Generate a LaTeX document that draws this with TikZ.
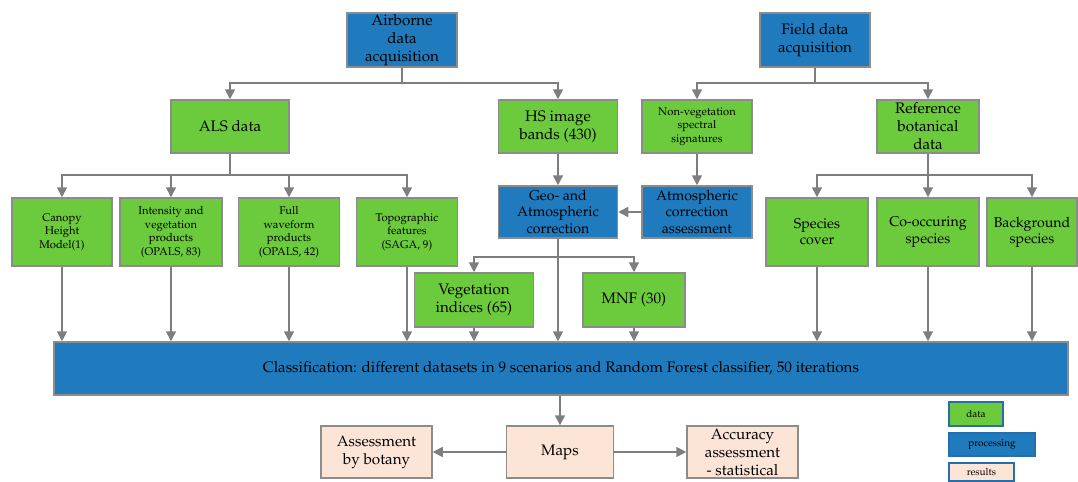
\documentclass[tikz,border=0pt]{standalone}
\usepackage[T1]{fontenc}
\usepackage{mathpazo}
\usetikzlibrary{arrows.meta,positioning}
\definecolor{datagreen}{RGB}{108,203,60}
\definecolor{procblue}{RGB}{31,123,190}
\definecolor{respeach}{RGB}{252,228,214}
\definecolor{boxgray}{RGB}{140,140,140}
\definecolor{arrgray}{RGB}{125,125,130}
\definecolor{legblue}{RGB}{40,110,170}
\newcommand{\normsz}{\fontsize{7.6}{9}\selectfont}
\newcommand{\midsz}{\fontsize{7.1}{8.1}\selectfont}
\newcommand{\smallsz}{\fontsize{5.6}{6.8}\selectfont}
\newcommand{\legsz}{\fontsize{5}{6}\selectfont}
\tikzset{
    box/.style={draw=boxgray, line width=0.75pt, align=center, inner sep=0pt, font=\normsz},
    data/.style={box, fill=datagreen},
    proc/.style={box, fill=procblue},
    res/.style={box, fill=respeach},
    legbox/.style={draw=legblue, line width=0.75pt, inner sep=0pt, font=\legsz},
    flow/.style={draw=arrgray, line width=0.75pt},
    >={Triangle[width=5pt,length=5pt]}
}

\begin{document}
\begin{tikzpicture}[x=0.5pt, y=-0.5pt]
    \useasboundingbox (0,0) rectangle (1078,482);
    \node[proc, minimum width=55pt, minimum height=27pt] (air) at (402,40) {Airborne\\data\\acquisition};
    \node[proc, minimum width=55pt, minimum height=27pt] (field) at (815,40) {Field data\\acquisition};
    \node[data, minimum width=59pt, minimum height=26.5pt] (als) at (230,126.5) {ALS data};
    \node[data, minimum width=59.5pt, minimum height=26.5pt] (hs) at (558,126.5) {HS image\\bands (430)};
    \node[data, minimum width=55pt, minimum height=26.5pt, font=\smallsz] (nonveg) at (697,126.5) {Non-vegetation\\spectral\\signatures};
    \node[data, minimum width=51pt, minimum height=26.5pt] (ref) at (928,126.5) {Reference\\botanical\\data};
    \node[proc, minimum width=59.5pt, minimum height=26pt, font=\midsz] (geo) at (558,212) {Geo- and\\Atmospheric\\correction};
    \node[proc, minimum width=55pt, minimum height=26pt, font=\midsz] (atm) at (697,212) {Atmospheric\\correction\\assessment};
    \node[data, minimum width=50pt, minimum height=34pt, font=\smallsz] (canopy) at (62,232) {Canopy\\Height\\Model(1)};
    \node[data, minimum width=51pt, minimum height=34pt, font=\smallsz] (inten) at (171,232) {Intensity and\\vegetation\\products\\(OPALS, 83)};
    \node[data, minimum width=50.5pt, minimum height=34pt, font=\smallsz] (full) at (289,232) {Full\\waveform\\products\\(OPALS, 42)};
    \node[data, minimum width=50.5pt, minimum height=34pt, font=\smallsz] (topo) at (407,232) {Topographic\\features\\(SAGA, 9)};
    \node[data, minimum width=51pt, minimum height=34pt, font=\midsz] (cover) at (817,232) {Species\\cover};
    \node[data, minimum width=51pt, minimum height=34pt, font=\midsz] (cooc) at (928,232) {Co-occuring\\species};
    \node[data, minimum width=45pt, minimum height=34pt, font=\midsz] (back) at (1032,232) {Background\\species};
    \node[data, minimum width=59.5pt, minimum height=27pt] (veg) at (474,300) {Vegetation\\indices (65)};
    \node[data, minimum width=51pt, minimum height=27pt] (mnf) at (634,300) {MNF (30)};
    \node[proc, minimum width=507pt, minimum height=26.5pt] (cls) at (561,368.5) {Classification: different datasets in 9 scenarios and Random Forest classifier, 50 iterations};
    \node[res, minimum width=55.5pt, minimum height=26pt] (bot) at (376.5,452) {Assessment\\by botany};
    \node[res, minimum width=53.5pt, minimum height=26pt] (maps) at (560,452) {Maps};
    \node[res, minimum width=55.5pt, minimum height=26pt] (acc) at (742.5,452) {Accuracy\\assessment\\- statistical};
    \node[legbox, fill=datagreen, minimum width=27pt, minimum height=12pt] (lgdata) at (976,414) {data};
    \node[legbox, fill=procblue, minimum width=43pt, minimum height=11.5pt] (lgproc) at (992,444.5) {processing};
    \node[legbox, fill=respeach, minimum width=32.5pt, minimum height=9pt] (lgres) at (981.5,472) {results};
    \coordinate (ja) at (0,83);
    \coordinate (jb) at (0,175);
    \coordinate (jc) at (0,257);
    \draw[flow] (air.south) -- (air.south |- ja);
    \draw[flow, ->] (air.south |- ja) -| (als.north);
    \draw[flow, ->] (air.south |- ja) -| (hs.north);
    \draw[flow] (field.south) -- (field.south |- ja);
    \draw[flow, ->] (field.south |- ja) -| (nonveg.north);
    \draw[flow, ->] (field.south |- ja) -| (ref.north);
    \draw[flow] (als.south) -- (als.south |- jb);
    \foreach \n in {canopy,inten,full,topo}
        \draw[flow, ->] (als.south |- jb) -| (\n.north);
    \draw[flow] (ref.south) -- (ref.south |- jb);
    \foreach \n in {cover,cooc,back}
        \draw[flow, ->] (ref.south |- jb) -| (\n.north);
    \draw[flow, ->] (hs) -- (geo);
    \draw[flow, ->] (nonveg) -- (atm);
    \draw[flow, ->] (atm) -- (geo);
    \draw[flow, ->] (geo.south) -- (geo.south |- cls.north);
    \draw[flow, ->] (geo.south |- jc) -| (veg.north);
    \draw[flow, ->] (geo.south |- jc) -| (mnf.north);
    \foreach \n in {canopy,inten,full,topo,veg,mnf,cover,cooc,back}
        \draw[flow, ->] (\n.south) -- (\n.south |- cls.north);
    \draw[flow, ->] (maps.north |- cls.south) -- (maps.north);
    \draw[flow, ->] (maps) -- (bot);
    \draw[flow, ->] (maps) -- (acc);
\end{tikzpicture}
\end{document}
